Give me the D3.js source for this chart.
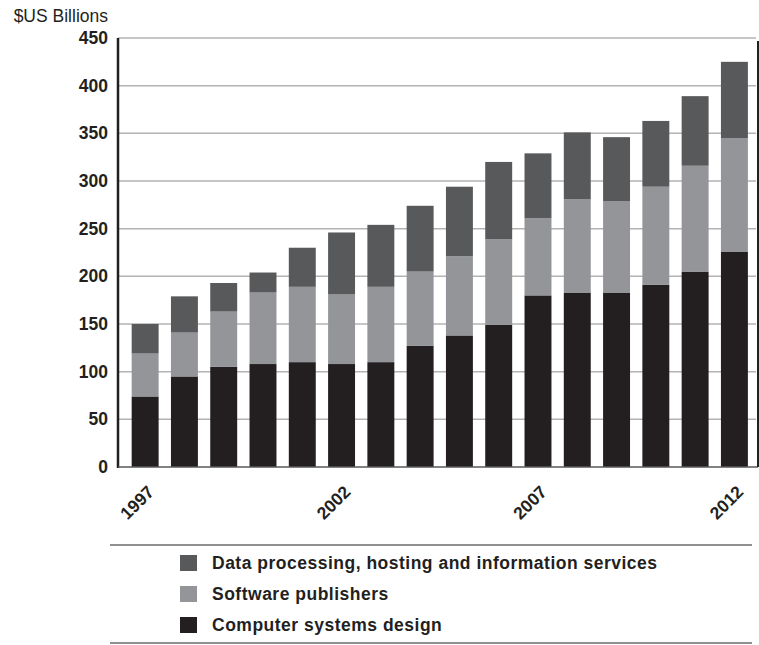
<!DOCTYPE html>
<html>
    <head>
        <title>IT services output</title>
        <script src="https://d3js.org/d3.v7.min.js"></script>
        <style>
            body {
                margin: 0;
                background: #fff;
            }
            svg {
                display: block;
                font-family: "Liberation Sans", Arial, Helvetica, sans-serif;
            }
            .grid line {
                stroke: #b3b3b3;
                stroke-width: 1.5;
            }
        </style>
    </head>
    <body>
        <svg width="759" height="645"></svg>
    </body>
    <script>
        // values (US$ billions)
        let years = ['1997','1998','1999','2000','2001','2002','2003','2004',
                     '2005','2006','2007','2008','2009','2010','2011','2012'];
        let computerDesign = [74, 95, 105, 108, 110, 108, 110, 127, 138, 149, 180, 183, 183, 191, 205, 226];
        let software       = [45, 46, 58, 75, 79, 73, 79, 78, 83, 90, 81, 98, 96, 103, 111, 119];
        let dataProcessing = [31, 38, 30, 21, 41, 65, 65, 69, 73, 81, 68, 70, 67, 69, 73, 80];
        let yTicks = [0, 50, 100, 150, 200, 250, 300, 350, 400, 450];
        let labelYears = ['1997', '2002', '2007', '2012'];

        let seriesNames = ['Computer systems design', 'Software publishers',
                           'Data processing, hosting and information services'];
        let keys = ['comp', 'soft', 'data'];
        let colors = {comp: '#231f20', soft: '#939598', data: '#58595b'};

        let rows = years.map((y, i) => ({
            year: y, comp: computerDesign[i], soft: software[i], data: dataProcessing[i]
        }));

        let svg = d3.select('svg');
        let plotLeft = 118, plotRight = 757, plotTop = 38, plotBottom = 467;
        let fs = 17.5;

        let x = d3.scaleBand()
                    .domain(years)
                    .range([plotLeft, plotRight])
                    .paddingInner(0.314)
                    .paddingOuter(0.29)
                    .align(0.6);
        let y = d3.scaleLinear()
                    .domain([0, 450])
                    .range([plotBottom, plotTop]);

        // gridlines
        svg.append('g')
            .attr('class', 'grid')
            .selectAll('line')
            .data(yTicks.filter(d => d > 0))
            .join('line')
            .attr('x1', plotLeft)
            .attr('x2', plotRight - 1)
            .attr('y1', d => y(d))
            .attr('y2', d => y(d));

        let stacked = d3.stack().keys(keys)(rows);

        svg.append('g')
            .selectAll('g')
            .data(stacked)
            .join('g')
            .attr('fill', d => colors[d.key])
            .selectAll('rect')
            .data(d => d)
            .join('rect')
            .attr('x', d => x(d.data.year))
            .attr('width', x.bandwidth())
            .attr('y', d => y(d[1]))
            .attr('height', d => y(d[0]) - y(d[1]));

        // y axis
        let yAxis = svg.append('g')
            .attr('transform', `translate(${plotLeft},0)`)
            .call(d3.axisLeft(y).tickValues(yTicks).tickSize(0).tickPadding(10));
        yAxis.select('.domain').remove();
        yAxis.selectAll('text')
            .attr('font-size', fs)
            .attr('font-weight', 'bold')
            .attr('fill', '#231f20')
            .attr('font-family', '"Liberation Sans", Arial, sans-serif');

        svg.append('line')
            .attr('x1', plotLeft).attr('x2', plotLeft)
            .attr('y1', plotTop).attr('y2', plotBottom + 1)
            .attr('stroke', '#231f20').attr('stroke-width', 2.5);
        svg.append('line')
            .attr('x1', plotLeft).attr('x2', plotRight + 1)
            .attr('y1', plotBottom).attr('y2', plotBottom)
            .attr('stroke', '#58595b').attr('stroke-width', 1.5);
        svg.append('line')
            .attr('x1', plotRight + 1).attr('x2', plotRight + 1)
            .attr('y1', plotTop + 3).attr('y2', plotBottom)
            .attr('stroke', '#231f20').attr('stroke-width', 2);

        svg.append('text')
            .attr('x', 108)
            .attr('y', 22)
            .attr('text-anchor', 'end')
            .attr('font-size', fs)
            .attr('fill', '#231f20')
            .text('$US Billions');

        // x labels, rotated
        svg.append('g')
            .selectAll('text')
            .data(labelYears)
            .join('text')
            .attr('transform', d => `translate(${x(d) + x.bandwidth() / 2 + 10}, 493) rotate(-45)`)
            .attr('text-anchor', 'end')
            .attr('font-size', fs)
            .attr('font-weight', 'bold')
            .attr('fill', '#231f20')
            .text(d => d);

        // legend
        svg.append('line')
            .attr('x1', 110).attr('x2', 752)
            .attr('y1', 545).attr('y2', 545)
            .attr('stroke', '#231f20').attr('stroke-width', 1);
        svg.append('line')
            .attr('x1', 110).attr('x2', 752)
            .attr('y1', 643).attr('y2', 643)
            .attr('stroke', '#231f20').attr('stroke-width', 1);

        let legendOrder = ['data', 'soft', 'comp'];
        let legend = svg.append('g')
            .selectAll('g')
            .data(legendOrder)
            .join('g')
            .attr('transform', (d, i) => `translate(180, ${563 + i * 31})`);
        legend.append('rect')
            .attr('x', 0).attr('y', -8)
            .attr('width', 17).attr('height', 16)
            .attr('fill', d => colors[d]);
        legend.append('text')
            .attr('x', 32)
            .attr('y', 6)
            .attr('font-size', fs)
            .attr('font-weight', 'bold')
            .attr('letter-spacing', 0.5)
            .attr('fill', '#231f20')
            .text(d => seriesNames[keys.indexOf(d)]);
    </script>
</html>
